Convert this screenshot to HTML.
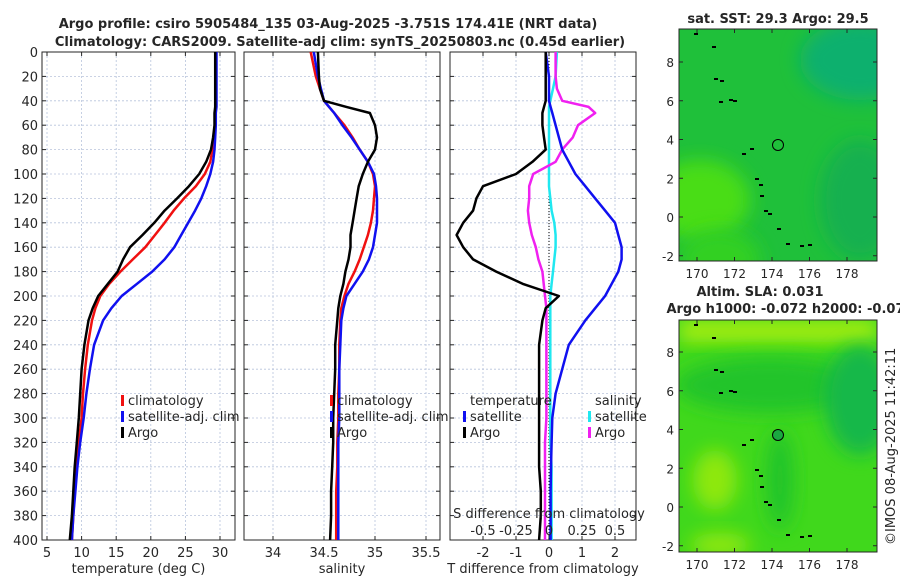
<!DOCTYPE html>
<html><head><meta charset="utf-8"><style>
body{margin:0;background:#fff;}
svg text{font-family:"DejaVu Sans","Liberation Sans",sans-serif;fill:#262626;}
</style></head><body>
<svg id="c" width="900" height="580" viewBox="0 0 900 580" xmlns="http://www.w3.org/2000/svg">
<defs>
<filter id="bl" x="-50%" y="-50%" width="200%" height="200%"><feGaussianBlur stdDeviation="9"/></filter>
<clipPath id="m1"><rect x="679" y="29" width="198" height="232"/></clipPath>
<clipPath id="m2"><rect x="679" y="320" width="198" height="232"/></clipPath>
</defs>
<text x="328" y="28" font-size="13" font-weight="bold" text-anchor="middle">Argo profile: csiro 5905484_135 03-Aug-2025 -3.751S 174.41E (NRT data)</text>
<text x="340" y="46" font-size="13" font-weight="bold" text-anchor="middle">Climatology: CARS2009. Satellite-adj clim: synTS_20250803.nc (0.45d earlier)</text>
<g id="plots"></g>
<g id="maps">
 <g clip-path="url(#m1)">
  <rect x="679" y="29" width="198" height="232" fill="#1fc03a"/>
  <ellipse cx="700" cy="200" rx="50" ry="40" fill="#48dd18" filter="url(#bl)"/>
  <ellipse cx="860" cy="60" rx="60" ry="40" fill="#10b06e" filter="url(#bl)"/>
  <ellipse cx="860" cy="200" rx="40" ry="60" fill="#14b050" filter="url(#bl)"/>
  <ellipse cx="720" cy="260" rx="40" ry="30" fill="#30d024" filter="url(#bl)"/>
 </g>
 <rect x="679" y="29" width="198" height="232" fill="none" stroke="#262626"/>
 <circle cx="778" cy="145" r="5.5" fill="none" stroke="#000"/>
 <text x="778" y="23" font-size="13" font-weight="bold" text-anchor="middle">sat. SST: 29.3 Argo: 29.5</text>
 <g clip-path="url(#m2)">
  <rect x="679" y="320" width="198" height="232" fill="#40d81c"/>
  <rect x="679" y="320" width="198" height="22" fill="#a8ee08" filter="url(#bl)"/>
  <ellipse cx="770" cy="385" rx="95" ry="28" fill="#22c42c" filter="url(#bl)"/>
  <ellipse cx="860" cy="400" rx="35" ry="55" fill="#15b848" filter="url(#bl)"/>
  <ellipse cx="780" cy="480" rx="14" ry="50" fill="#22c42c" filter="url(#bl)"/>
  <ellipse cx="715" cy="480" rx="22" ry="30" fill="#8ee810" filter="url(#bl)"/>
  <ellipse cx="720" cy="545" rx="30" ry="12" fill="#90e810" filter="url(#bl)"/>
 </g>
 <rect x="679" y="320" width="198" height="232" fill="none" stroke="#262626"/>
 <circle cx="778" cy="435" r="5.5" fill="#1aa840" stroke="#000"/>
 <text x="760" y="296" font-size="13" font-weight="bold" text-anchor="middle">Altim. SLA: 0.031</text>
 <text x="790" y="313" font-size="13" font-weight="bold" text-anchor="middle">Argo h1000: -0.072 h2000: -0.071</text>
 <text transform="translate(895,545) rotate(-90)" font-size="13">©IMOS 08-Aug-2025 11:42:11</text>
</g>
</svg>
<script>
const NS='http://www.w3.org/2000/svg';
const depths=[0,20,30,40,45,50,60,70,80,90,100,110,120,130,140,150,160,170,180,190,200,210,220,240,260,280,300,320,340,360,380,400];
const tempArgo=[29.3,29.3,29.3,29.3,29.3,29.2,29.2,29.0,28.7,28.0,27.0,25.5,23.8,22.0,20.5,18.8,17.0,16.0,15.2,13.8,12.4,11.6,11.0,10.4,10.0,9.8,9.6,9.3,9.0,8.8,8.6,8.3];
const tempClim=[29.4,29.4,29.4,29.4,29.4,29.3,29.3,29.1,28.9,28.6,27.8,26.5,24.8,23.3,22.0,20.6,19.2,17.4,15.6,14.0,12.7,12.0,11.5,10.9,10.5,10.2,10.0,9.6,9.3,9.0,8.8,8.6];
const tempSat=[29.5,29.5,29.5,29.5,29.5,29.4,29.4,29.3,29.2,29.0,28.6,28.0,27.3,26.4,25.4,24.4,23.4,22.0,20.2,18.0,15.8,14.3,13.1,11.8,11.2,10.7,10.3,9.8,9.4,9.1,8.8,8.6];
const salArgo=[34.44,34.45,34.46,34.50,34.72,34.95,35.0,35.02,35.0,34.93,34.88,34.84,34.82,34.80,34.78,34.76,34.76,34.74,34.71,34.69,34.66,34.64,34.63,34.61,34.61,34.60,34.59,34.59,34.58,34.57,34.57,34.56];
const salClim=[34.37,34.42,34.46,34.50,34.55,34.60,34.70,34.78,34.85,34.93,34.98,35.00,34.99,34.98,34.96,34.93,34.89,34.85,34.80,34.74,34.70,34.67,34.66,34.65,34.65,34.64,34.64,34.63,34.63,34.62,34.62,34.62];
const salSat=[34.40,34.44,34.47,34.50,34.55,34.60,34.68,34.77,34.85,34.93,34.99,35.01,35.02,35.02,35.02,35.00,34.98,34.94,34.88,34.80,34.72,34.69,34.67,34.66,34.65,34.65,34.65,34.64,34.64,34.64,34.64,34.64];
const dTArgo=[-0.1,-0.1,-0.1,-0.1,-0.15,-0.2,-0.2,-0.15,-0.1,-0.5,-1.0,-2.0,-2.2,-2.3,-2.6,-2.8,-2.6,-2.3,-1.6,-0.8,0.3,-0.1,-0.2,-0.3,-0.3,-0.3,-0.3,-0.3,-0.3,-0.25,-0.25,-0.3];
const dTSat=[-0.1,0,0,0,0.05,0.1,0.2,0.3,0.4,0.6,0.8,1.1,1.4,1.7,2.0,2.1,2.2,2.2,2.1,1.9,1.7,1.4,1.1,0.6,0.4,0.2,0.1,0.08,0.06,0.05,0.05,0.05];
const dSArgo=[0.05,0.05,0.06,0.1,0.3,0.35,0.22,0.18,0.1,0.05,-0.12,-0.15,-0.15,-0.16,-0.15,-0.13,-0.1,-0.08,-0.05,-0.04,-0.03,-0.02,-0.02,-0.02,-0.02,-0.02,-0.02,-0.03,-0.03,-0.03,-0.03,-0.03];
const dSSat=[0.06,0.05,0.03,0.01,0,0,0,0,0,0,0,0,0.01,0.02,0.04,0.05,0.05,0.04,0.03,0.02,0.01,0.01,0.01,0.01,0.01,0.01,0.01,0.01,0.02,0.02,0.02,0.02];
const yTicks=[0,20,40,60,80,100,120,140,160,180,200,220,240,260,280,300,320,340,360,380,400];
const tTicks=[5,10,15,20,25,30];
const sTicks=[34,34.5,35,35.5];
const dTTicks=[-2,-1,0,1,2];
const dSTicks=[-0.5,-0.25,0,0.25,0.5];
const lonTicks=[170,172,174,176,178];
const latTicks=[-2,0,2,4,6,8];

const Y0=52,Y1=540;
const yScale=d=>Y0+d/400*(Y1-Y0);
const panels=[
 {x0:42,x1:235,xs:v=>47+(v-5)*6.92,ticks:tTicks,lab:'temperature (deg C)',name:'temperature'},
 {x0:244,x1:440,xs:v=>273+(v-34)*102,ticks:sTicks,lab:'salinity',name:'salinity'},
 {x0:450,x1:636,xs:v=>549+v*33,ticks:dTTicks,lab:'T difference from climatology',name:'difference'}
];
const sxS=v=>549+v*132;
const g=document.getElementById('plots');
function el(tag,attrs,parent){const e=document.createElementNS(NS,tag);for(const k in attrs)e.setAttribute(k,attrs[k]);(parent||g).appendChild(e);return e;}
function txt(x,y,s,attrs,parent){const e=el('text',Object.assign({x:x,y:y,'font-size':13},attrs||{}),parent);e.textContent=s;return e;}
function line(xs,vals,col,w,name){
 const d=vals.map((v,i)=>(i?'L':'M')+xs(v).toFixed(1)+','+yScale(depths[i]).toFixed(1)).join('');
 const p=el('path',{d:d,fill:'none',stroke:col,'stroke-width':w,'stroke-linejoin':'round'});
 
 
}
panels.forEach((P,pi)=>{
 P.ticks.forEach(t=>{const x=P.xs(t);el('line',{x1:x,x2:x,y1:Y0,y2:Y1,stroke:'#b8c4dc','stroke-width':0.8,'stroke-dasharray':'2,2'});
  el('line',{x1:x,x2:x,y1:Y1,y2:Y1-4,stroke:'#262626'});el('line',{x1:x,x2:x,y1:Y0,y2:Y0+4,stroke:'#262626'});
  const l=txt(x,557,String(t),{'text-anchor':'middle'});
  
  });
 yTicks.forEach(d=>{const y=yScale(d);el('line',{x1:P.x0,x2:P.x1,y1:y,y2:y,stroke:'#b8c4dc','stroke-width':0.8,'stroke-dasharray':'2,2'});
  el('line',{x1:P.x0,x2:P.x0+4,y1:y,y2:y,stroke:'#262626'});el('line',{x1:P.x1,x2:P.x1-4,y1:y,y2:y,stroke:'#262626'});
  if(pi===0){const l=txt(P.x0-4,y+5,String(d),{'text-anchor':'end'});
   
   }});
 const f=el('rect',{x:P.x0,y:Y0,width:P.x1-P.x0,height:Y1-Y0,fill:'none',stroke:'#262626'});
 
 
 const xl=txt((P.x0+P.x1)/2,573,P.lab,{'text-anchor':'middle'});
 
 
});
el('line',{x1:549,x2:549,y1:Y0,y2:Y1,stroke:'#000','stroke-width':1,'stroke-dasharray':'1,2'});
line(panels[0].xs,tempClim,'#f01010',2.5,'temp-climatology-line');
line(panels[0].xs,tempSat,'#1010f0',2.5,'temp-satellite-line');
line(panels[0].xs,tempArgo,'#000',2.5,'temp-argo-line');
line(panels[1].xs,salClim,'#f01010',2.5,'sal-climatology-line');
line(panels[1].xs,salSat,'#1010f0',2.5,'sal-satellite-line');
line(panels[1].xs,salArgo,'#000',2.5,'sal-argo-line');
line(sxS,dSSat,'#20e8f0',2.5,'dS-satellite-line');
line(sxS,dSArgo,'#f020f0',2.5,'dS-argo-line');
line(panels[2].xs,dTSat,'#1010f0',2.5,'dT-satellite-line');
line(panels[2].xs,dTArgo,'#000',2.5,'dT-argo-line');
const st=txt(549,518,'S difference from climatology',{'text-anchor':'middle'});


dSTicks.forEach(t=>{const l=txt(sxS(t),535,String(t),{'text-anchor':'middle'});
 
 });
function leg(x,y,col,label,name){
 const r=el('rect',{x:x,y:y-10,width:3,height:11,fill:col});
 
 
 const t=txt(x+7,y,label);
 
 
}
leg(121,405,'#f01010','climatology','legend-temp-climatology');
leg(121,421,'#1010f0','satellite-adj. clim','legend-temp-satellite');
leg(121,437,'#000','Argo','legend-temp-argo');
leg(330,405,'#f01010','climatology','legend-sal-climatology');
leg(330,421,'#1010f0','satellite-adj. clim','legend-sal-satellite');
leg(330,437,'#000','Argo','legend-sal-argo');
const lt=txt(470,405,'temperature');
const ls=txt(595,405,'salinity');
leg(463,421,'#1010f0','satellite','legend-dT-satellite');
leg(463,437,'#000','Argo','legend-dT-argo');
leg(588,421,'#20e8f0','satellite','legend-dS-satellite');
leg(588,437,'#f020f0','Argo','legend-dS-argo');
const mg=document.getElementById('maps');
[[29,261,62,217],[320,552,352,507]].forEach((m,mi)=>{
 const lat=v=>m[3]+(m[2]-m[3])*v/8;
 lonTicks.forEach(t=>{const x=697+(t-170)*18.75;
  el('line',{x1:x,x2:x,y1:m[1],y2:m[1]-4,stroke:'#262626'},mg);el('line',{x1:x,x2:x,y1:m[0],y2:m[0]+4,stroke:'#262626'},mg);
  const l=txt(x,m[1]+17,String(t),{'text-anchor':'middle','font-size':12},mg);
  
  });
 latTicks.forEach(t=>{const y=lat(t);
  el('line',{x1:679,x2:683,y1:y,y2:y,stroke:'#262626'},mg);el('line',{x1:877,x2:873,y1:y,y2:y,stroke:'#262626'},mg);
  const l=txt(674,y+5,String(t),{'text-anchor':'end','font-size':12},mg);
  
  });
 const off=m[0]-29;
 [[694,33],[712,46],[714,78],[720,80],[729,99],[742,153],[750,148],[755,178],[759,184],[760,195],[764,210],[768,213],[777,228],[786,243],[800,245],[808,244],[719,101],[733,100]].forEach(p=>{
  el('rect',{x:p[0],y:p[1]+off,width:4,height:2,fill:'#000'},mg);});
});
</script>
</body></html>
